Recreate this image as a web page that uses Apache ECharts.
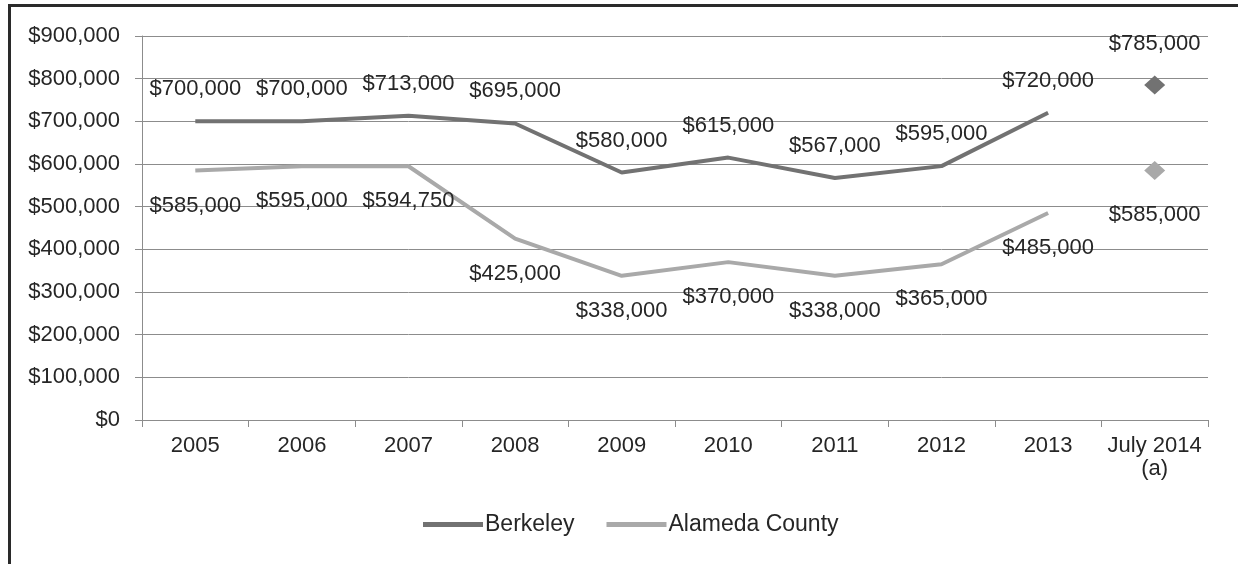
<!DOCTYPE html>
<html>
<head>
<meta charset="utf-8">
<script src="https://cdn.jsdelivr.net/npm/echarts@6/dist/echarts.min.js"></script>
<style>
html,body{margin:0;padding:0;background:#fff;}
#frame{position:absolute;left:8px;top:4px;width:1240px;height:570px;border-left:3px solid #2a2a2a;border-top:3px solid #2a2a2a;box-sizing:border-box;}
#chart{position:absolute;left:0;top:0;width:1238px;height:564px;}
</style>
</head>
<body>
<div id="frame"></div>
<div id="chart"></div>
<script>
const categories = ['2005','2006','2007','2008','2009','2010','2011','2012','2013','July 2014\n(a)'];
const berkeley = [700000,700000,713000,695000,580000,615000,567000,595000,720000];
const alameda = [585000,595000,594750,425000,338000,370000,338000,365000,485000];
const berkeleyJuly2014 = 785000;
const alamedaJuly2014 = 585000;
const yTicks = [0,100000,200000,300000,400000,500000,600000,700000,800000,900000];

const fmt = v => '$' + Number(v).toLocaleString('en-US');
const FONT = 'Liberation Sans, Arial, sans-serif';
const DARK = '#727272';
const LIGHT = '#a9a9a9';
const TXT = '#262626';

const lineData = arr => arr.concat([null]);
const pointData = v => categories.map((c,i) => i === categories.length-1 ? v : null);

const labelTop = {show:true, position:'top', distance:21, formatter:p=>fmt(p.value), color:TXT, fontSize:22, fontFamily:FONT};
const labelBottom = {show:true, position:'bottom', distance:24, formatter:p=>fmt(p.value), color:TXT, fontSize:22, fontFamily:FONT};

const chart = echarts.init(document.getElementById('chart'));
chart.setOption({
  animation:false,
  textStyle:{fontFamily:FONT},
  grid:{left:142, right:30, top:36, bottom:144, containLabel:false},
  legend:{
    bottom:23, left:418,
    data:[{name:'Berkeley', icon:'rect'},{name:'Alameda County', icon:'rect'}],
    itemWidth:60, itemHeight:5, itemGap:32,
    textStyle:{fontSize:23, color:TXT, fontFamily:FONT, padding:[0,0,0,-3]}
  },
  xAxis:{
    type:'category', data:categories, boundaryGap:true,
    axisLine:{lineStyle:{color:'#8c8c8c', width:1}},
    axisTick:{show:true, alignWithLabel:false, length:7, lineStyle:{color:'#8c8c8c'}},
    axisLabel:{color:TXT, fontSize:22, fontFamily:FONT, margin:14, lineHeight:23, interval:0}
  },
  yAxis:{
    type:'value', min:yTicks[0], max:yTicks[yTicks.length-1], interval:100000,
    axisLine:{show:true, lineStyle:{color:'#8c8c8c'}},
    axisTick:{show:true, length:7, lineStyle:{color:'#8c8c8c'}},
    splitLine:{show:true, lineStyle:{color:'#8c8c8c', width:1}},
    axisLabel:{color:TXT, fontSize:22, fontFamily:FONT, margin:22, formatter:v=>fmt(v)}
  },
  series:[
    {name:'Berkeley', type:'line', data:lineData(berkeley), showSymbol:true, symbol:'circle', symbolSize:0.1,
     lineStyle:{color:DARK, width:4}, itemStyle:{color:DARK}, label:labelTop, z:3},
    {name:'Alameda County', type:'line', data:lineData(alameda), showSymbol:true, symbol:'circle', symbolSize:0.1,
     lineStyle:{color:LIGHT, width:4}, itemStyle:{color:LIGHT}, label:labelBottom, z:2},
    {name:'Berkeley', type:'scatter', data:pointData(berkeleyJuly2014), symbol:'diamond', symbolSize:[21,19],
     itemStyle:{color:DARK, opacity:1}, label:labelTop, z:3},
    {name:'Alameda County', type:'scatter', data:pointData(alamedaJuly2014), symbol:'diamond', symbolSize:[21,19],
     itemStyle:{color:LIGHT, opacity:1}, label:labelBottom, z:2}
  ]
});
</script>
</body>
</html>
